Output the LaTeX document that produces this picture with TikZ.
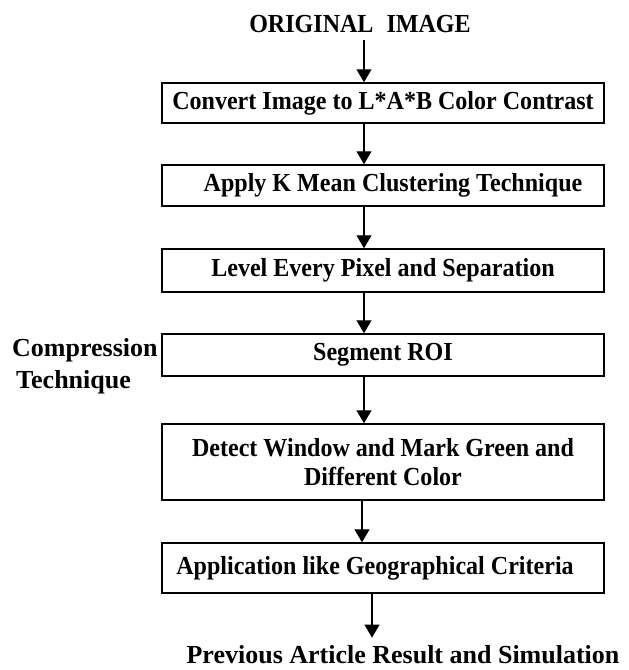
\documentclass[tikz,border=0pt]{standalone}
\usepackage{fontspec}
\setmainfont{Liberation Serif}
\newfontfamily\condfont{Liberation Serif}[FakeStretch=0.925]
\usetikzlibrary{arrows.meta}
\begin{document}
\begin{tikzpicture}[x=1pt,y=-1pt,
  stepbox/.style={draw, line width=1.5pt, fill=white, minimum width=442pt, inner sep=0pt, align=center, font=\condfont\bfseries\fontsize{26}{29}\selectfont},
  conn/.style={line width=1.3pt, -{Triangle[width=15pt,length=13pt]}},
  lbl/.style={inner sep=0pt, font=\bfseries\fontsize{26}{32}\selectfont}
]
\useasboundingbox (0,0) rectangle (629,670);
\node[inner sep=0pt, font=\condfont\bfseries\fontsize{26}{30}\selectfont] (orig) at (360,24) {ORIGINAL\hspace{0.5em}IMAGE};
\node[stepbox, minimum height=40pt] (b1) at (383,103) {Convert Image to L*A*B Color Contrast};
\node[stepbox, minimum height=41pt] (b2) at (383,185.5) {\hspace*{20pt}Apply K Mean Clustering Technique};
\node[stepbox, minimum height=43pt] (b3) at (383,270.5) {Level Every Pixel and Separation};
\node[stepbox, minimum height=42pt] (b4) at (383,355) {Segment ROI};
\node[stepbox, minimum height=76pt] (b5) at (383,462) {Detect Window and Mark Green and\\Different Color};
\node[stepbox, minimum height=50pt] (b6) at (383,568) {Application like Geographical Criteria\hspace*{16pt}};
\node[lbl, align=left, anchor=west] (comp) at (12,366) {Compression\\\hspace*{4pt}Technique};
\node[lbl] (prev) at (403,655) {Previous Article Result and Simulation};
\draw[conn] ([xshift=4pt,yshift=-7pt]orig.south) -- ([xshift=-19pt]b1.north);
\draw[conn] ([xshift=-19pt]b1.south) -- ([xshift=-19pt]b2.north);
\draw[conn] ([xshift=-19pt]b2.south) -- ([xshift=-19pt]b3.north);
\draw[conn] ([xshift=-19pt]b3.south) -- ([xshift=-19pt]b4.north);
\draw[conn] ([xshift=-19pt]b4.south) -- ([xshift=-19pt]b5.north);
\draw[conn] ([xshift=-21pt]b5.south) -- ([xshift=-21pt]b6.north);
\draw[conn] ([xshift=-11pt]b6.south) -- ([xshift=-31pt,yshift=8pt]prev.north);
\end{tikzpicture}
\end{document}
